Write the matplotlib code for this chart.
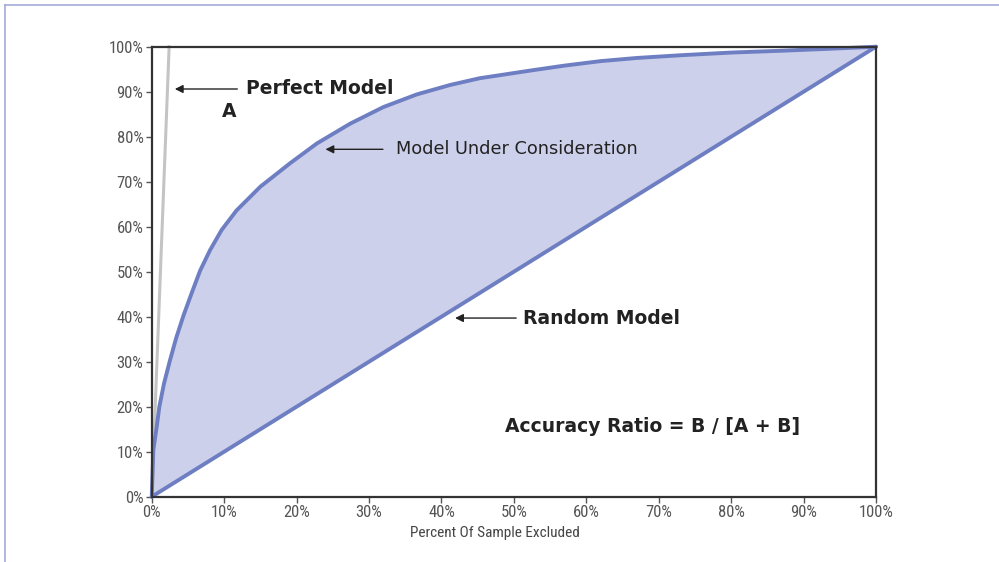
import matplotlib.pyplot as plt
from matplotlib.lines import Line2D
from matplotlib.ticker import PercentFormatter

# values (percent)
model_x = [0, 0.22, 0.69, 1.05, 1.7, 2.5, 3.36, 4.37, 5.5, 6.67, 8.05, 9.66, 11.7,
           15.0, 19.1, 22.8, 27.4, 32.0, 36.6, 41.2, 45.3, 52.7, 57, 62, 67, 73,
           80, 86.9, 93, 100]
model_y = [0, 10.4, 15.6, 20, 25.2, 30.2, 35.2, 40.2, 45.2, 50.2, 54.8, 59.3, 63.6,
           68.9, 74.1, 78.5, 82.9, 86.6, 89.4, 91.5, 93.0, 94.8, 95.8, 96.8, 97.5, 98.1,
           98.7, 99.1, 99.5, 100]
perfect_x = [0, 2.4]
perfect_y = [0, 100]
random_x = [0, 100]
random_y = [0, 100]
ticks = [0, 10, 20, 30, 40, 50, 60, 70, 80, 90, 100]

blue = "#6e7ec2"
fill = "#cdd0ea"
tick_font = ["Roboto Condensed", "Liberation Sans Narrow", "Roboto", "DejaVu Sans"]

fig = plt.figure(figsize=(9.99, 5.62), dpi=100)
ax = fig.add_axes([0.1519, 0.1162, 0.725, 0.8007])

ax.fill_between(model_x, model_y, model_x, color=fill, lw=0)
ax.plot(perfect_x, perfect_y, color="#c4c4c4", lw=2.2, clip_on=False)
ax.plot(random_x, random_y, color=blue, lw=2.8, clip_on=False, solid_capstyle="round")
ax.plot(model_x, model_y, color=blue, lw=2.8, clip_on=False,
        solid_capstyle="round", solid_joinstyle="round")

ax.set_xlim(0, 100)
ax.set_ylim(0, 100)
ax.set_xticks(ticks)
ax.set_yticks(ticks)
ax.xaxis.set_major_formatter(PercentFormatter(decimals=0))
ax.yaxis.set_major_formatter(PercentFormatter(decimals=0))
ax.tick_params(direction="out", length=4, width=1, color="#555555",
               labelcolor="#555555", labelsize=12, pad=2)
for lab in ax.get_xticklabels() + ax.get_yticklabels():
    lab.set_family(tick_font)
for s in ax.spines.values():
    s.set_color("#333333")
    s.set_linewidth(1.6)

ax.set_xlabel("Percent Of Sample Excluded", family=tick_font, fontsize=11,
              color="#444444")
ax.xaxis.set_label_coords(0.474, -0.065)

bold = dict(fontsize=13.5, fontweight="bold", color="#222222", va="center")
arrow = dict(arrowstyle="-|>", color="#222222", lw=1.0, mutation_scale=12)

ax.annotate("", xy=(2.8, 90.6), xytext=(12.2, 90.6), arrowprops=arrow)
ax.text(13.0, 90.8, "Perfect Model", ha="left", **bold)
ax.text(10.7, 85.5, "A", ha="center", **bold)

ax.annotate("", xy=(23.6, 77.2), xytext=(32.3, 77.2), arrowprops=arrow)
ax.text(33.7, 77.3, "Model Under Consideration", ha="left", fontsize=12.8,
        color="#222222", va="center", family="DejaVu Sans")

ax.annotate("", xy=(41.5, 39.7), xytext=(50.7, 39.7), arrowprops=arrow)
ax.text(51.3, 39.7, "Random Model", ha="left", **bold)

ax.text(48.8, 15.7, "Accuracy Ratio = B / [A + B]", ha="left", **bold)

# thin frame lines along top and left edge of the picture
fig.add_artist(Line2D([5 / 999, 1], [1 - 5 / 562, 1 - 5 / 562], color="#a3aad8", lw=1.2))
fig.add_artist(Line2D([5 / 999, 5 / 999], [0, 1 - 5 / 562], color="#a3aad8", lw=1.2))

fig.savefig("out.png", dpi=100)
